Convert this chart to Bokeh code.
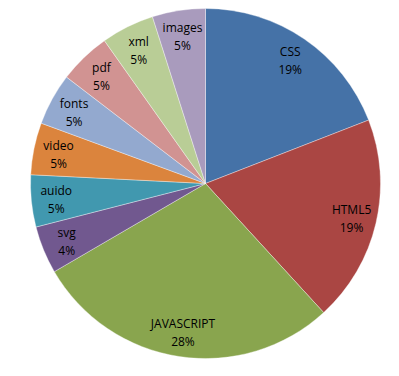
import numpy as np
import pandas as pd
from bokeh.plotting import figure
from bokeh.models import Range1d, ColumnDataSource
from bokeh.core.properties import value
from bokeh.embed import file_html
from bokeh.resources import INLINE

categories = ["CSS", "HTML5", "JAVASCRIPT", "svg", "auido", "video", "fonts", "pdf", "xml", "images"]
shares = [19.1, 19.1, 28.4, 4.4, 4.8, 4.8, 4.8, 4.8, 4.9, 4.9]
colors = ["#4572A7", "#AA4643", "#89A54E", "#71588F", "#4198AF",
          "#DB843D", "#93A9CF", "#D19392", "#B9CD96", "#A99BBD"]

df = pd.DataFrame({"cat": categories, "val": shares, "color": colors})
frac = df["val"] / df["val"].sum()
cum_end = frac.cumsum()
cum_start = cum_end - frac
# clockwise from 12 o'clock
df["start"] = np.pi / 2 - cum_end * 2 * np.pi
df["end"] = np.pi / 2 - cum_start * 2 * np.pi
mid = np.pi / 2 - (cum_start + frac / 2) * 2 * np.pi
R = 175
LR = 150
df["lx"] = LR * np.cos(mid)
df["ly"] = LR * np.sin(mid) - 1
df["label"] = [f"{c}\n{round(p * 100):.0f}%" for c, p in zip(df["cat"], frac)]

src = ColumnDataSource(df)

p = figure(width=399, height=376, output_backend="svg", toolbar_location=None,
           x_range=Range1d(-205, 194), y_range=Range1d(-193, 183),
           min_border=0, outline_line_color=None)
p.axis.visible = False
p.xgrid.visible = False
p.ygrid.visible = False
p.background_fill_color = "white"
p.border_fill_color = "white"

p.wedge(x=0, y=0, radius=R, start_angle="start", end_angle="end",
        fill_color="color", line_color="white", line_width=0.6, line_alpha=0.6,
        source=src)
p.text(x="lx", y="ly", text="label", source=src, text_align="center",
       text_baseline="middle", text_font=value("Open Sans"), text_font_size="12px",
       text_color="#000000", text_line_height=1.05)

open("out.html", "w").write(file_html(p, INLINE))
